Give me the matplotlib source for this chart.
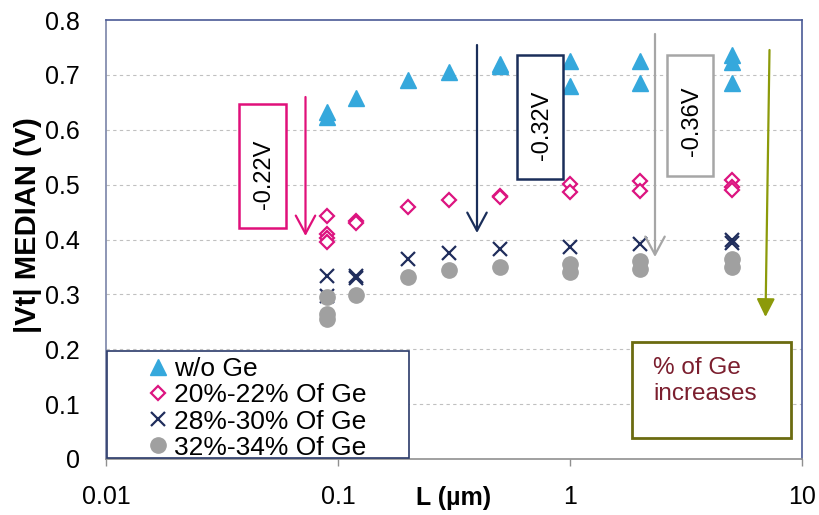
import matplotlib
matplotlib.use("Agg")
import matplotlib.pyplot as plt
from matplotlib.patches import Rectangle
from matplotlib.lines import Line2D

plt.rcParams['font.family'] = ['Liberation Sans', 'DejaVu Sans']

# ---- data ----
L_noge = [0.09, 0.09, 0.12, 0.2, 0.3, 0.5, 0.5, 1, 1, 2, 2, 5, 5, 5]
V_noge = [0.632, 0.623, 0.658, 0.690, 0.706, 0.720, 0.716, 0.725, 0.680, 0.726, 0.685, 0.737, 0.724, 0.686]

L_ge20 = [0.09, 0.09, 0.09, 0.09, 0.12, 0.12, 0.2, 0.3, 0.5, 0.5, 1, 1, 2, 2, 5, 5, 5]
V_ge20 = [0.442, 0.410, 0.402, 0.395, 0.434, 0.430, 0.460, 0.472, 0.480, 0.478, 0.502, 0.486, 0.507, 0.488, 0.509, 0.496, 0.491]

L_ge28 = [0.09, 0.09, 0.12, 0.12, 0.2, 0.3, 0.5, 1, 2, 5, 5]
V_ge28 = [0.334, 0.297, 0.333, 0.330, 0.364, 0.376, 0.382, 0.386, 0.392, 0.399, 0.394]

L_ge32 = [0.09, 0.09, 0.09, 0.12, 0.2, 0.3, 0.5, 1, 1, 2, 2, 5, 5]
V_ge32 = [0.295, 0.264, 0.255, 0.298, 0.332, 0.345, 0.350, 0.356, 0.341, 0.361, 0.346, 0.365, 0.350]

series_labels = ['w/o Ge', '20%-22% Of Ge', '28%-30% Of Ge', '32%-34% Of Ge']
x_ticks = [0.01, 0.1, 1, 10]
x_tick_labels = ['0.01', '0.1', '1', '10']
y_ticks = [0, 0.1, 0.2, 0.3, 0.4, 0.5, 0.6, 0.7, 0.8]
y_tick_labels = ['0', '0.1', '0.2', '0.3', '0.4', '0.5', '0.6', '0.7', '0.8']

C_TRI = '#35A8DC'
C_DIA = '#DC1480'
C_X = '#1F2D5C'
C_CIR = '#A0A0A0'

fig = plt.figure(figsize=(8.19, 5.15), dpi=100)
ax = fig.add_axes([106/819, 1-459/515, 696/819, 439/515])

ax.set_xscale('log')
ax.set_xlim(0.01, 10)
ax.set_ylim(0, 0.8)

ax.plot(L_noge, V_noge, ls='none', marker='^', ms=11, color=C_TRI, mec=C_TRI, zorder=3)
ax.plot(L_ge20, V_ge20, ls='none', marker='D', ms=7, mfc='white', mec=C_DIA, mew=1.6, zorder=3)
ax.plot(L_ge28, V_ge28, ls='none', marker='x', ms=10, mec=C_X, mew=1.6, zorder=3)
ax.plot(L_ge32, V_ge32, ls='none', marker='o', ms=11, color=C_CIR, mec=C_CIR, zorder=4)

# grid
for yv in y_ticks[1:-1]:
    ax.axhline(yv, color='#C0C0C0', lw=0.8, ls=(0, (3, 3)), zorder=1)

ax.set_xticks(x_ticks)
ax.set_xticklabels(x_tick_labels)
ax.xaxis.set_minor_locator(matplotlib.ticker.NullLocator())
ax.set_yticks(y_ticks)
ax.set_yticklabels(y_tick_labels)
ax.tick_params(axis='x', direction='out', length=5, width=1, color='#909090', pad=14, labelsize=18)
ax.tick_params(axis='y', length=0, pad=19, labelsize=18)

for s in ['top', 'right']:
    ax.spines[s].set_color('#4A5A96')
    ax.spines[s].set_linewidth(1.2)
ax.spines['left'].set_color('#7A84A8')
ax.spines['bottom'].set_color('#909090')
ax.spines['left'].set_linewidth(1.2)
ax.spines['bottom'].set_linewidth(1.2)

fig.text(28/819, 1-225/515, '|Vt| MEDIAN (V)', rotation=90, ha='center', va='center',
         fontsize=21, fontweight='bold')
fig.text(454/819, 1-498/515, 'L (µm)', ha='center', va='center', fontsize=18, fontweight='bold')

# annotation boxes and arrows (axes fraction)
def box(x0, y0, x1, y1, ec, lw=1.8):
    ax.add_patch(Rectangle((x0, y0), x1-x0, y1-y0, transform=ax.transAxes,
                           fc='white', ec=ec, lw=lw, zorder=5, clip_on=False))

def arrow(x0, y0, x1, y1, col, style):
    ax.annotate('', xy=(x1, y1), xytext=(x0, y0), xycoords='axes fraction',
                textcoords='axes fraction',
                arrowprops=dict(arrowstyle=style, color=col, lw=1.6, shrinkA=0, shrinkB=0,
                                mutation_scale=1), zorder=6)

def fx(px):
    return (px-106)/696

def fy(py):
    return (459-py)/439

# pink
box(fx(239), fy(228), fx(286), fy(104), '#E0107A')
ax.text(fx(264), fy(174), '-0.22V', rotation=90, ha='center', va='center',
        transform=ax.transAxes, fontsize=17, zorder=7)
arrow(fx(305.5), fy(97), fx(305.5), fy(236), '#E0107A', '->,head_length=13,head_width=7')
# navy
box(fx(516.5), fy(179), fx(563), fy(55), '#1A2E5A')
ax.text(fx(542), fy(125), '-0.32V', rotation=90, ha='center', va='center',
        transform=ax.transAxes, fontsize=17, zorder=7)
arrow(fx(477), fy(45), fx(477), fy(233), '#1A2E5A', '->,head_length=13,head_width=7')
# gray
box(fx(666.5), fy(175.5), fx(713), fy(55), '#A6A6A6')
ax.text(fx(692), fy(121), '-0.36V', rotation=90, ha='center', va='center',
        transform=ax.transAxes, fontsize=17, zorder=7)
arrow(fx(655), fy(34), fx(655), fy(257), '#A6A6A6', '->,head_length=13,head_width=7')
# olive
arrow(fx(769.5), fy(50), fx(765.5), fy(317), '#8C9A0A', '-|>,head_length=11,head_width=5.5')
box(fx(632), fy(438), fx(791), fy(342), '#6B6B10', lw=2)
ax.text(fx(653), fy(381), '% of Ge\nincreases', ha='left', va='center', color='#7B1E2E',
        transform=ax.transAxes, fontsize=17.5, linespacing=1.25, zorder=7)

# legend
box(fx(107), fy(458), fx(409), fy(351), '#2A3A6A', lw=1.2)
handles = [
    Line2D([], [], ls='none', marker='^', ms=11, color=C_TRI),
    Line2D([], [], ls='none', marker='D', ms=7, mfc='white', mec=C_DIA, mew=1.6),
    Line2D([], [], ls='none', marker='x', ms=10, mec=C_X, mew=1.6),
    Line2D([], [], ls='none', marker='o', ms=11, color=C_CIR),
]
leg = ax.legend(handles, series_labels, loc='center',
                bbox_to_anchor=(fx(107), fy(462), fx(409)-fx(107), fy(351)-fy(458)),
                frameon=False, fontsize=19, handlelength=0.6, handletextpad=0.3,
                labelspacing=0.08, borderpad=0.1)
leg.set_zorder(8)

fig.savefig('out.png', dpi=100)
